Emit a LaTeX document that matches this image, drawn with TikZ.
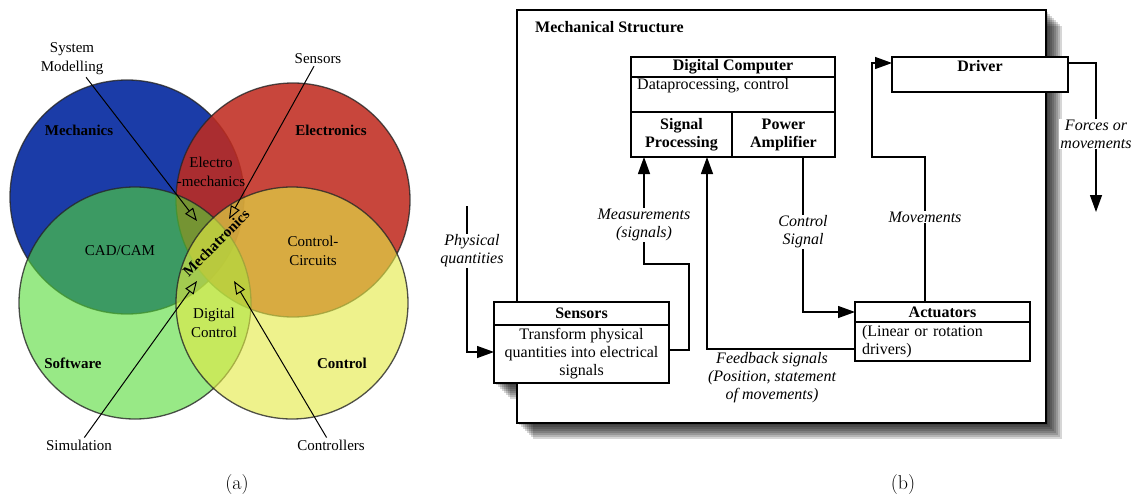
\documentclass[tikz,border=0pt]{standalone}
\usepackage{fontspec}
\setmainfont{Liberation Serif}
\newfontfamily\subcapfont{Latin Modern Roman}
\usepackage{tikz}
\usetikzlibrary{arrows.meta, positioning}

\definecolor{mechblue}{RGB}{27,60,168}
\definecolor{elecred}{RGB}{192,43,31}
\definecolor{softgreen}{RGB}{83,218,53}
\definecolor{ctrlyellow}{RGB}{227,234,69}

\begin{document}
\begin{tikzpicture}[x=1pt, y=-1pt,
    txt/.style = {font=\fontsize{15}{19}\selectfont, align=center, inner sep=2pt},
    bold/.style = {txt, font=\fontsize{15}{19}\selectfont\bfseries},
    bbold/.style = {txt, font=\fontsize{16}{18}\selectfont\bfseries},
    flowlbl/.style = {txt, font=\fontsize{16}{18}\selectfont\itshape, fill=white, inner sep=1pt},
    ring/.style = {draw=black!85, draw opacity=.8, line width=1.3pt},
    pointer/.style = {line width=1pt, -{Triangle[open, length=13pt, width=10pt]}},
    box/.style = {draw, line width=1.4pt, fill=white, inner sep=0pt, outer sep=0pt},
    head/.style = {box, font=\fontsize{16}{18}\selectfont\bfseries, align=center},
    body/.style = {box, font=\fontsize{16}{18}\selectfont, align=center},
    flow/.style = {line width=1.3pt, -{Triangle[length=17pt, width=12pt]}},
    shadelayer/.style = {preaction={fill=black, opacity=.16,
        transform canvas={xshift=#1, yshift=-#1}}},
    boxshade/.style = {shadelayer/.list={2pt,4pt,6pt,8pt,10pt,12pt,14pt,16pt}}
  ]
  \useasboundingbox (0,0) rectangle (1135,500);

  % (a) venn diagram
  \filldraw[ring, fill=mechblue] (127,197) circle[radius=117pt];
  \filldraw[ring, fill=elecred, fill opacity=.87] (293,200) circle[radius=117pt];
  \filldraw[ring, fill=softgreen, fill opacity=.6] (135,303) circle[radius=116pt];
  \filldraw[ring, fill=ctrlyellow, fill opacity=.62] (292,303) circle[radius=116pt];

  \node[txt] (sysmod) at (72,59) {System\\Modelling};
  \node[txt] (vsens) at (318,59) {Sensors};
  \node[bold] (mech) at (79,130) {Mechanics};
  \node[bold] (elec) at (331,130) {Electronics};
  \node[txt] (elmech) at (211,172) {Electro\\-mechanics};
  \node[txt] (cadcam) at (120,251) {CAD/CAM};
  \node[txt] (ctrlcirc) at (313,251) {Control-\\Circuits};
  \node[bold, rotate=45] (mechatr) at (216,243) {Mechatronics};
  \node[txt] (digctrl) at (214,323) {Digital\\Control};
  \node[bold] (soft) at (73,363) {Software};
  \node[bold] (ctrl) at (342,363) {Control};
  \node[txt] (simul) at (79,445) {Simulation};
  \node[txt] (ctrlers) at (331,445) {Controllers};

  \coordinate (tipsm) at (197,221);
  \coordinate (tipse) at (229,219);
  \coordinate (tipsi) at (197,281);
  \coordinate (tipco) at (234,281);
  \draw[pointer] (sysmod) -- (tipsm);
  \draw[pointer] (vsens) -- (tipse);
  \draw[pointer] (simul) -- (tipsi);
  \draw[pointer] (ctrlers) -- (tipco);

  % (b) block diagram
  \path[boxshade] (494,302) rectangle (669,383);
  \draw[boxshade, line width=1.6pt, fill=white] (517,10) rectangle (1046,423);
  \node[bbold, anchor=west] (mstitle) at (533,27) {Mechanical Structure};

  \node[head, minimum width=204pt, minimum height=20pt] (dctitle) at (733,67) {Digital Computer};
  \node[box, minimum width=204pt, minimum height=35pt, below=0pt of dctitle] (dcbody) {};
  \node[txt, font=\fontsize{16}{18}\selectfont, anchor=west] (dctext) at (635,86) {Dataprocessing, control};
  \node[head, minimum width=101pt, minimum height=45pt, anchor=north west] (sigproc) at (631,112) {Signal\\Processing};
  \node[head, minimum width=103pt, minimum height=45pt, anchor=north west] (poweramp) at (732,112) {Power\\Amplifier};

  \node[box, minimum width=176pt, minimum height=35pt, anchor=north west] (driver) at (892,57) {};
  \node[bbold, anchor=north] (drvtext) at ([yshift=-1pt]driver.north) {Driver};

  \node[head, minimum width=175pt, minimum height=23pt] (senstitle) at (581.5,313.5) {Sensors};
  \node[body, minimum width=175pt, minimum height=58pt, below=0pt of senstitle] (sensbody)
    {Transform physical\\quantities into electrical\\signals};

  \node[head, minimum width=175pt, minimum height=20pt] (acttitle) at (942.5,312) {Actuators};
  \node[body, align=left, text width=161pt, minimum width=175pt, minimum height=39pt,
    below=0pt of acttitle] (actbody) {(Linear or rotation\\drivers)};

  \coordinate (pq) at (467,206);
  \coordinate (fmend) at (1096,212);
  \draw[flow] (pq) |- ([yshift=2pt]sensbody.west);
  \draw[flow] ([yshift=4pt]sensbody.east) -| (689,264) -| ([xshift=13pt]sigproc.south west);
  \draw[flow] ([yshift=-7.5pt]actbody.west) -| ([xshift=76pt]sigproc.south west);
  \draw[flow] ([xshift=71pt]poweramp.south west) |- (acttitle.west);
  \draw[flow] ([xshift=70pt]acttitle.north west) |- (872,157) |- ([yshift=11.5pt]driver.west);
  \draw[flow] ([yshift=11.5pt]driver.east) -| (fmend);

  \node[flowlbl] (pqlbl) at (472,251) {Physical\\quantities};
  \node[flowlbl] (measlbl) at (644,225) {Measurements\\(signals)};
  \node[flowlbl] (ctrllbl) at (803,232) {Control\\Signal};
  \node[flowlbl] (movlbl) at (925,217) {Movements};
  \node[flowlbl] (fblbl) at (772,378) {Feedback signals\\(Position, statement\\of movements)};
  \node[flowlbl] (fmlbl) at (1096,134) {Forces or\\movements};

  \node[font=\subcapfont\fontsize{20}{24}\selectfont] (capa) at (237,485) {(a)};
  \node[font=\subcapfont\fontsize{20}{24}\selectfont] (capb) at (903,485) {(b)};
\end{tikzpicture}
\end{document}
